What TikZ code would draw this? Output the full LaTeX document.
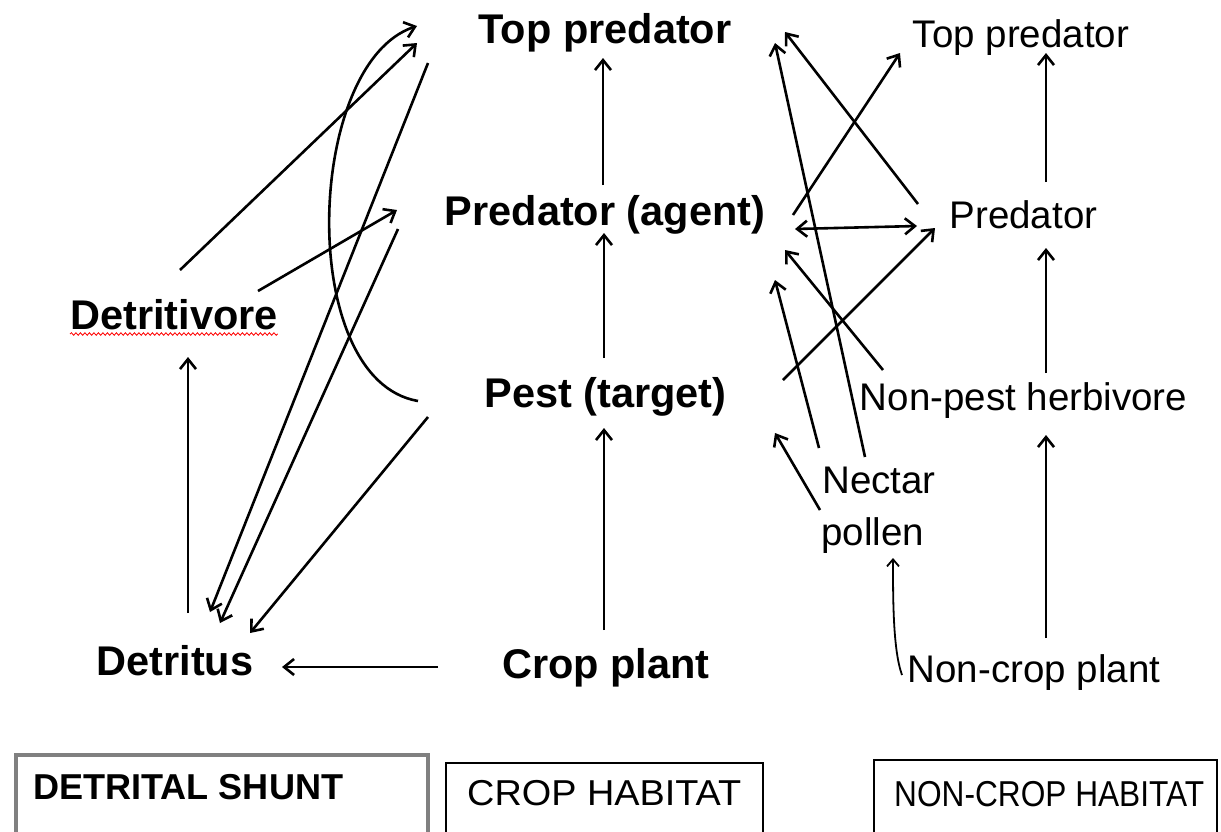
\documentclass[tikz,border=0pt]{standalone}
\usepackage{fontspec}
\setmainfont{Liberation Sans}
\usetikzlibrary{arrows.meta,calc,decorations.pathmorphing}
\definecolor{boxgray}{HTML}{808080}
\begin{document}
\begin{tikzpicture}[x=1pt,y=-1pt,
  bnode/.style={inner sep=0pt, anchor=base, font=\fontsize{41.5}{48}\selectfont\bfseries},
  rnode/.style={inner sep=0pt, anchor=base, font=\fontsize{38.5}{45}\selectfont},
  arr/.style={line width=2.6pt, -{Straight Barb[length=10pt,width=16pt]}},
  thinarr/.style={line width=1.8pt, -{Straight Barb[length=7pt,width=12pt]}},
  dblarr/.style={line width=2.6pt, {Straight Barb[length=10pt,width=16pt]}-{Straight Barb[length=10pt,width=16pt]}},
  boxtxt/.style={inner sep=0pt, anchor=base west},
  spell/.style={red, line width=0.8pt, decorate, decoration={snake, amplitude=1.3pt, segment length=4.5pt}}
]
\useasboundingbox (0,0) rectangle (1221,831);
\fill[white] (0,0) rectangle (1221,831);

% nodes
\node[bnode] (tp) at (605,43) {Top predator};
\node[bnode] (pa) at (605,225) {Predator (agent)};
\node[bnode] (pt) at (605.5,407) {Pest (target)};
\node[bnode] (cp) at (606,678) {Crop plant};
\node[bnode] (dv) at (174,329) {Detritivore};
\node[bnode] (dt) at (175,675) {Detritus};
\node[rnode] (tp2) at (1021,47) {Top predator};
\node[rnode] (pr) at (1023.5,228) {Predator};
\node[rnode] (nh) at (1023.5,410) {Non-pest herbivore};
\node[rnode, anchor=base west] (nc) at (822,493) {Nectar};
\node[rnode, anchor=base west] (pl) at (821,545) {pollen};
\node[rnode] (ncp) at (1034,682) {Non-crop plant};

% spelling underline
\draw[spell] ($(dv.base west)+(0,5)$) -- ($(dv.base east)+(0,5)$);

% detrital shunt
\draw[arr] ($(dv.base)+(6,-59)$) -- ($(tp.base)+(-188,0)$);
\draw[arr] ($(pt.base)+(-187.5,-6)$) .. controls ($(pt.base)+(-310,-27)$) and ($(tp.base)+(-300,20)$) .. ($(tp.base)+(-188,-17)$);
\draw[arr] ($(tp.base)+(-177,20)$) -- ($(dt.base)+(35,-63)$);
\draw[arr] ($(pa.base)+(-207,4)$) -- ($(dt.base)+(45,-52)$);
\draw[arr] ($(pt.base)+(-177.5,10)$) -- ($(dt.base)+(75,-42)$);
\draw[arr] ($(dv.base)+(84,-38)$) -- ($(pa.base)+(-208,-15)$);
\draw[arr] ($(dt.base)+(13,-62)$) -- ($(dv.base)+(14,28)$);
\draw[arr] ($(cp.base)+(-168,-11)$) -- ($(dt.base)+(107,-8)$);

% crop column
\draw[arr] ($(pa.base)+(-2,-40)$) -- ($(tp.base)+(-2,15)$);
\draw[arr] ($(pt.base)+(-1.5,-49)$) -- ($(pa.base)+(-1,8)$);
\draw[arr] ($(cp.base)+(-2,-48)$) -- ($(pt.base)+(-1.5,21)$);

% non-crop column
\draw[arr] ($(pr.base)+(22.5,-46)$) -- ($(tp2.base)+(25,6)$);
\draw[arr] ($(nh.base)+(22.5,-37)$) -- ($(pr.base)+(22.5,20)$);
\draw[arr] ($(ncp.base)+(12,-44)$) -- ($(nh.base)+(22.5,25)$);
\draw[thinarr] ($(ncp.base)+(-132,-7)$) .. controls ($(ncp.base)+(-141,-32)$) and ($(pl.base west)+(72,55)$) .. ($(pl.base west)+(72,13)$);

% cross links
\draw[arr] ($(pa.base)+(188,-10)$) -- ($(tp2.base)+(-121,6)$);
\draw[dblarr] ($(pa.base)+(190,4)$) -- ($(pr.base)+(-106.5,-2)$);
\draw[arr] ($(pr.base)+(-105.5,-24)$) -- ($(tp.base)+(180,-11)$);
\draw[arr] ($(nc.base west)+(43,-36)$) -- ($(tp.base)+(170,0)$);
\draw[arr] ($(nh.base)+(-140.5,-40)$) -- ($(pa.base)+(180,25)$);
\draw[arr] ($(pt.base)+(177.5,-27)$) -- ($(pr.base)+(-88.5,0)$);
\draw[arr] ($(nc.base west)+(-3,-45)$) -- ($(pa.base)+(170,55)$);
\draw[arr] ($(pl.base west)+(-1,-35)$) -- ($(pt.base)+(169.5,26)$);

% habitat boxes
\draw[boxgray, line width=4.5pt] (16,845) -- (16,755) -- (428,755) -- (428,845);
\node[boxtxt, font=\fontsize{36}{42}\selectfont\bfseries] (ds) at (33,799) {\resizebox{310pt}{\height}{DETRITAL SHUNT}};
\draw[line width=1.8pt] (446,845) -- (446,763) -- (763,763) -- (763,845);
\node[boxtxt, font=\fontsize{36}{42}\selectfont] (ch) at (467,805) {\resizebox{274pt}{\height}{CROP HABITAT}};
\draw[line width=1.8pt] (874,845) -- (874,760) -- (1217,760) -- (1217,845);
\node[boxtxt, font=\fontsize{36}{42}\selectfont] (nch) at (894,806) {\resizebox{310pt}{\height}{NON-CROP HABITAT}};
\end{tikzpicture}
\end{document}
